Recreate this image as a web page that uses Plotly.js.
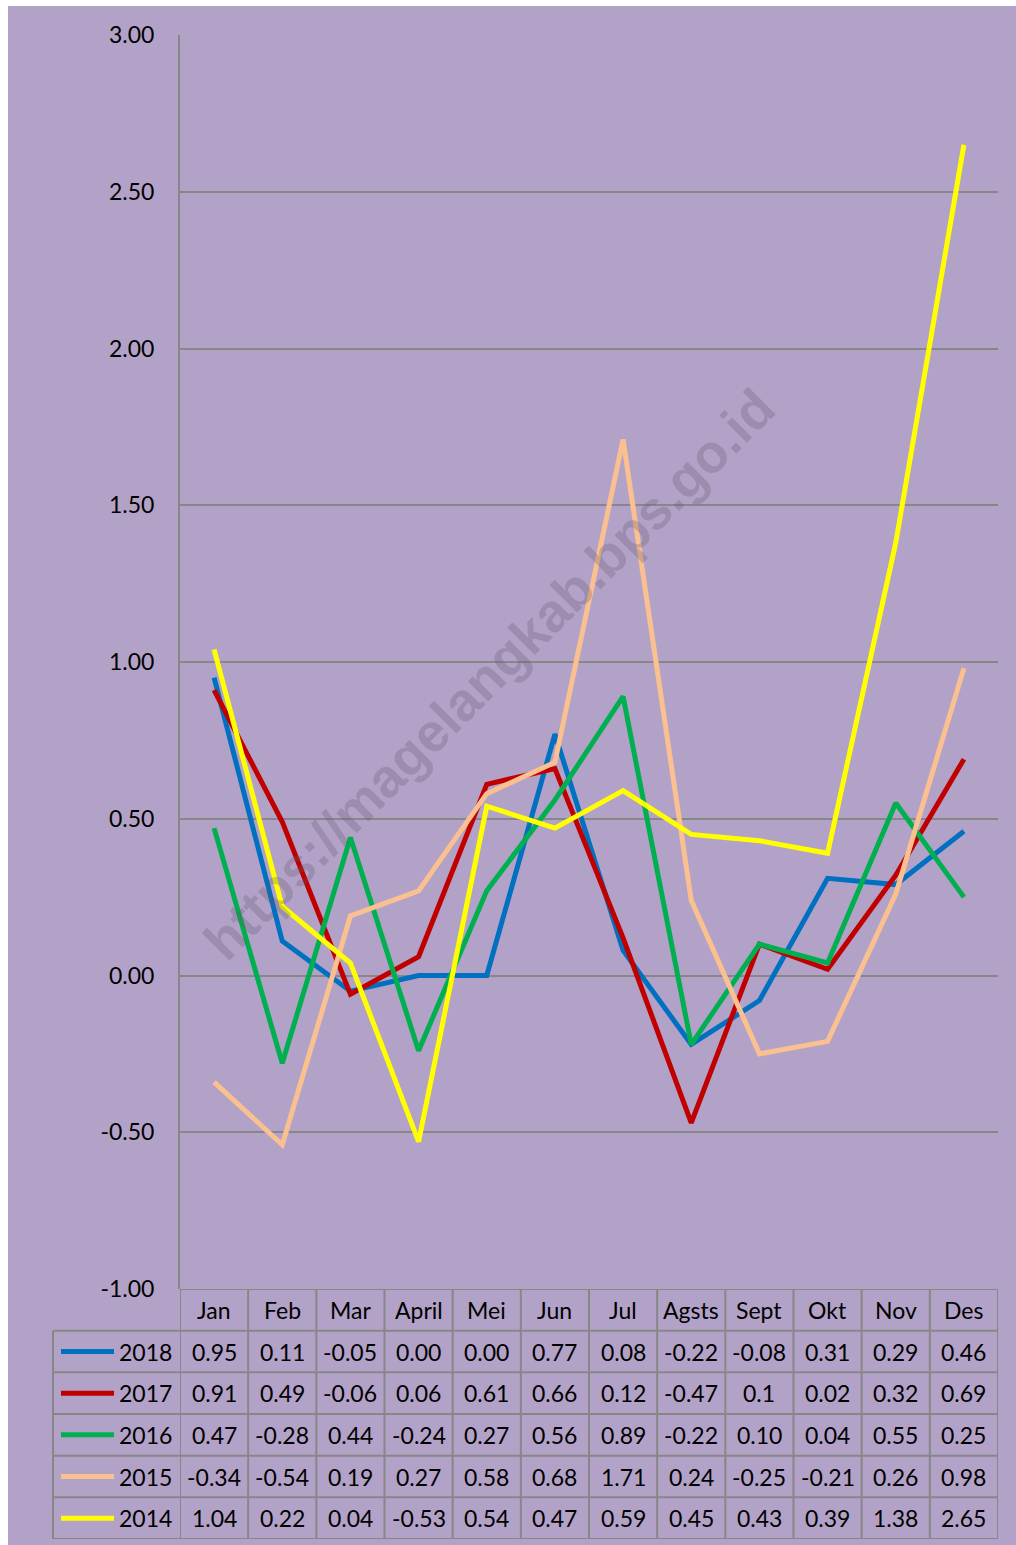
<!DOCTYPE html>
<html>
<head>
<meta charset="utf-8">
<script src="https://cdn.plot.ly/plotly-3.0.1.min.js"></script>
<style>
html,body{margin:0;padding:0;background:#fff;}
#chart{width:1016px;height:1545px;}
</style>
</head>
<body>
<div id="chart"></div>
<script>
const months = ["Jan","Feb","Mar","April","Mei","Jun","Jul","Agsts","Sept","Okt","Nov","Des"];
const seriesNames = ["2018","2017","2016","2015","2014"];
const v2018 = [0.95,0.11,-0.05,0.00,0.00,0.77,0.08,-0.22,-0.08,0.31,0.29,0.46];
const v2017 = [0.91,0.49,-0.06,0.06,0.61,0.66,0.12,-0.47,0.1,0.02,0.32,0.69];
const v2016 = [0.47,-0.28,0.44,-0.24,0.27,0.56,0.89,-0.22,0.10,0.04,0.55,0.25];
const v2015 = [-0.34,-0.54,0.19,0.27,0.58,0.68,1.71,0.24,-0.25,-0.21,0.26,0.98];
const v2014 = [1.04,0.22,0.04,-0.53,0.54,0.47,0.59,0.45,0.43,0.39,1.38,2.65];
// cell shown unformatted in the source table
const displayOverrides = {"2017": {8: "0.1"}};
const yTicks = [-1,-0.5,0,0.5,1,1.5,2,2.5,3];
const watermark = "https://magelangkab.bps.go.id";

const allValues = [v2018, v2017, v2016, v2015, v2014];
const colors = ["#0070C0","#C00000","#00B050","#FAC090","#FFFF00"];

const FONT = "Lato, 'Open Sans', sans-serif";
const FS = 23;
const gridCol = "#878787";

const traces = allValues.map((vals, i) => ({
  type: "scatter", mode: "lines",
  x: months, y: vals, name: seriesNames[i],
  line: {color: colors[i], width: 5},
  xaxis: "x", yaxis: "y", showlegend: false, hoverinfo: "skip"
}));

const shapes = [];
const annotations = [];

// purple frame inside white margins
shapes.push({type:"rect", xref:"paper", yref:"paper", layer:"below",
  x0:-0.2, x1:-(53-8)/945, y0:-0.01, y1:1.03, fillcolor:"#ffffff", line:{width:0}});
shapes.push({type:"rect", xref:"paper", yref:"paper", layer:"below",
  x0:-0.2, x1:1.1, y0:(1539-6)/1504, y1:1.1, fillcolor:"#ffffff", line:{width:0}});

// table grid
for (let k = 0; k <= months.length; k++) {
  shapes.push({type:"line", xref:"x", yref:"y2", x0:k-0.5, x1:k-0.5, y0:0, y1:6,
    line:{color:gridCol, width:2}});
}
shapes.push({type:"line", xref:"x", yref:"y2", x0:-0.5, x1:months.length-0.5, y0:0, y1:0,
  line:{color:gridCol, width:2}});
for (let r = 1; r <= 6; r++) {
  shapes.push({type:"line", xref:"paper", yref:"y2", x0:0, x1:1, y0:r, y1:r,
    line:{color:gridCol, width:2}});
}
shapes.push({type:"line", xref:"paper", yref:"y2", x0:0, x1:0, y0:1, y1:6,
  line:{color:gridCol, width:2}});

// header
months.forEach(m => annotations.push({xref:"x", yref:"y2", x:m, y:0.5, text:m,
  showarrow:false, font:{family:FONT, size:FS, color:"#000"}}));

// rows
seriesNames.forEach((name, i) => {
  const row = i + 1.5;
  shapes.push({type:"line", xref:"paper", yref:"y2", x0:(61-53)/945, x1:(114-53)/945,
    y0:row, y1:row, line:{color:colors[i], width:5}});
  annotations.push({xref:"paper", yref:"y2", x:(117-53)/945, y:row, text:name,
    xanchor:"left", showarrow:false, font:{family:FONT, size:FS, color:"#000"}});
  allValues[i].forEach((v, j) => {
    const ov = displayOverrides[name] && displayOverrides[name][j];
    const txt = ov !== undefined ? ov : v.toFixed(2);
    annotations.push({xref:"x", yref:"y2", x:months[j], y:row, text:txt,
      showarrow:false, font:{family:FONT, size:FS, color:"#000"}});
  });
});

// watermark
annotations.push({xref:"paper", yref:"paper", x:(489-53)/945, y:(1539-674)/1504,
  text:"<b>"+watermark+"</b>", showarrow:false, textangle:-45,
  font:{family:"'Liberation Sans', Arial, sans-serif", size:54, color:"rgba(95,85,110,0.27)"}});

const yDomLow = (1539-1289)/1504;

const layout = {
  width:1016, height:1545,
  margin:{l:53, r:18, t:35, b:6, pad:0},
  paper_bgcolor:"#B3A2C7", plot_bgcolor:"rgba(0,0,0,0)",
  showlegend:false,
  xaxis:{type:"category", categoryorder:"array", categoryarray:months,
    range:[-0.5, months.length-0.5], domain:[(180-53)/945, 1],
    showticklabels:false, showgrid:false, zeroline:false, showline:false, ticks:"", anchor:"y"},
  yaxis:{range:[-1,3], domain:[yDomLow,1], tickmode:"array", tickvals:yTicks,
    ticktext:yTicks.map(v => v.toFixed(2)),
    showgrid:true, gridcolor:gridCol, gridwidth:2, zeroline:false,
    showline:true, linecolor:gridCol, linewidth:2, ticks:"",
    ticklabelstandoff:19, tickfont:{family:FONT, size:FS, color:"#000"}, anchor:"x"},
  yaxis2:{range:[6,0], domain:[0,yDomLow], visible:false, anchor:"x"},
  shapes:shapes, annotations:annotations
};

Plotly.newPlot("chart", traces, layout, {staticPlot:true, displayModeBar:false});
</script>
</body>
</html>
